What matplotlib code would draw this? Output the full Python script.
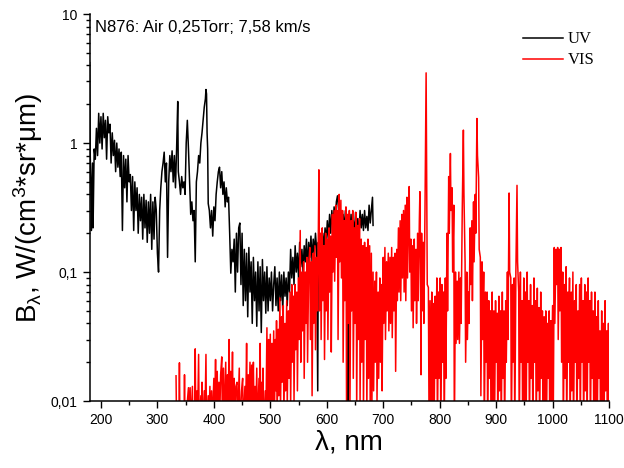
import matplotlib
matplotlib.use("Agg")
import matplotlib.pyplot as plt
from matplotlib.ticker import MultipleLocator, LogLocator, FuncFormatter, NullFormatter

plt.rcParams['font.family'] = ['Liberation Sans', 'DejaVu Sans']
plt.rcParams['mathtext.fontset'] = 'custom'
plt.rcParams['mathtext.rm'] = 'Liberation Sans'
plt.rcParams['mathtext.it'] = 'Liberation Sans'

# spectrum UV (black), nm / W/(cm3*sr*um)
uv_nm = [
    180, 181, 182, 183, 185, 186, 188, 190, 192, 194,
    196, 198, 200, 202, 204, 206, 208, 210, 212, 214,
    216, 218, 220, 222, 224, 226, 228, 230, 232, 234,
    236, 238, 240, 242, 244, 246, 248, 250, 252, 254,
    256, 258, 260, 262, 264, 266, 268, 270, 272, 274,
    276, 278, 280, 282, 284, 286, 288, 290, 292, 294,
    296, 298, 300, 302, 304, 306, 308, 310, 312, 314,
    316, 318, 320, 322, 324, 326, 328, 330, 332, 334,
    336, 337, 339, 341, 343, 345, 347, 349, 351, 353,
    355, 357, 359, 361, 363, 365, 367, 369, 371, 373,
    375, 377, 379, 381, 383, 385, 386, 387, 388, 389,
    390, 392, 394, 396, 398, 400, 402, 404, 406, 408,
    410, 412, 414, 416, 418, 420, 422, 424, 426, 428,
    430, 432, 434, 436, 438, 440, 442, 444, 446, 448,
    450, 452, 454, 456, 458, 460, 462, 464, 466, 468,
    470, 472, 474, 476, 478, 480, 482, 484, 486, 488,
    490, 492, 494, 496, 498, 500, 502, 504, 506, 508,
    510, 512, 514, 516, 518, 520, 522, 524, 526, 528,
    530, 532, 534, 536, 538, 540, 542, 544, 546, 548,
    550, 552, 554, 556, 558, 560, 562, 564, 566, 568,
    570, 572, 574, 576, 578, 580, 582, 584, 585, 587,
    589, 591, 593, 595, 597, 599, 601, 603, 605, 607,
    609, 611, 613, 615, 617, 619, 621, 623, 625, 627,
    629, 631, 633, 635, 637, 638, 639, 641, 643, 645,
    647, 649, 651, 653, 655, 657, 659, 661, 663, 665,
    667, 669, 671, 673, 675, 677, 679, 681, 682,
]
uv_val = [
    4.2, 0.8, 0.5, 0.21, 0.7, 0.22, 0.9, 0.75, 1.3, 0.8,
    1.7, 1.0, 1.6, 0.9, 1.7, 1.1, 1.5, 0.75, 1.6, 1.2,
    1.4, 0.7, 1.2, 0.8, 1.05, 0.6, 1.0, 0.65, 0.9, 0.55,
    0.85, 0.21, 0.8, 0.45, 0.75, 0.35, 0.8, 0.5, 0.57, 0.3,
    0.55, 0.21, 0.5, 0.3, 0.45, 0.2, 0.4, 0.25, 0.38, 0.18,
    0.4, 0.22, 0.36, 0.17, 0.35, 0.2, 0.4, 0.15, 0.35, 0.18,
    0.38, 0.3, 0.14, 0.1, 0.3, 0.45, 0.6, 0.7, 0.85, 0.5,
    0.7, 0.13, 0.5, 0.8, 0.6, 0.87, 0.5, 0.8, 0.45, 0.9,
    2.1, 0.6, 0.5, 0.4, 0.55, 0.45, 0.5, 0.4, 1.0, 1.5,
    0.9, 0.5, 0.28, 0.35, 0.25, 0.3, 0.12, 0.5, 0.6, 0.8,
    0.7, 1.0, 1.2, 1.5, 1.9, 2.2, 2.6, 2.4, 1.2, 0.9,
    0.34, 0.3, 0.22, 0.3, 0.19, 0.32, 0.25, 0.4, 0.5, 0.6,
    0.65, 0.45, 0.6, 0.4, 0.5, 0.32, 0.45, 0.35, 0.38, 0.2,
    0.098, 0.15, 0.12, 0.18, 0.07, 0.2, 0.1, 0.22, 0.24, 0.08,
    0.2, 0.055, 0.15, 0.06, 0.14, 0.045, 0.155, 0.07, 0.12, 0.04,
    0.13, 0.06, 0.1, 0.038, 0.12, 0.05, 0.11, 0.034, 0.125, 0.06,
    0.1, 0.048, 0.11, 0.05, 0.09, 0.06, 0.1, 0.05, 0.08, 0.11,
    0.055, 0.09, 0.05, 0.1, 0.06, 0.095, 0.05, 0.1, 0.065, 0.09,
    0.055, 0.1, 0.07, 0.15, 0.09, 0.13, 0.08, 0.16, 0.1, 0.14,
    0.09, 0.17, 0.11, 0.15, 0.1, 0.16, 0.12, 0.18, 0.1, 0.17,
    0.13, 0.19, 0.12, 0.18, 0.14, 0.2, 0.15, 0.012, 0.17, 0.13,
    0.19, 0.14, 0.2, 0.15, 0.22, 0.17, 0.25, 0.18, 0.28, 0.2,
    0.3, 0.22, 0.32, 0.24, 0.35, 0.39, 0.3, 0.22, 0.3, 0.2,
    0.28, 0.21, 0.3, 0.22, 0.27, 0.009, 0.25, 0.2, 0.28, 0.19,
    0.25, 0.2, 0.29, 0.21, 0.26, 0.19, 0.3, 0.22, 0.28, 0.21,
    0.3, 0.22, 0.27, 0.21, 0.33, 0.24, 0.3, 0.38, 0.23,
]

# spectrum VIS (red)
vis_nm = [
    333, 334, 338, 339, 340, 347, 348, 349, 355, 356,
    358, 359, 362, 363, 366, 367, 368, 370, 371, 373,
    374, 377, 378, 379, 380, 383, 384, 386, 387, 390,
    391, 393, 394, 396, 397, 400, 401, 403, 404, 406,
    407, 409, 410, 412, 414, 415, 417, 418, 421, 422,
    424, 425, 427, 428, 430, 431, 433, 434, 436, 437,
    439, 441, 442, 445, 446, 449, 451, 452, 455, 456,
    458, 459, 461, 462, 464, 465, 467, 468, 470, 471,
    473, 474, 476, 477, 480, 481, 482, 483, 485, 486,
    487, 488, 491, 492, 494, 495, 497, 498, 500, 501,
    503, 504, 506, 507, 509, 510, 511, 512, 514, 515,
    517, 518, 520, 521, 523, 524, 526, 527, 529, 530,
    532, 533, 535, 536, 538, 539, 541, 542, 544, 545,
    547, 548, 550, 551, 553, 554, 556, 557, 559, 560,
    562, 563, 565, 566, 568, 570, 571, 573, 574, 576,
    577, 579, 580, 582, 583, 585, 586, 587, 589, 590,
    592, 593, 595, 596, 598, 599, 601, 602, 604, 605,
    607, 608, 610, 611, 613, 614, 616, 617, 619, 620,
    622, 623, 625, 626, 628, 629, 631, 632, 634, 635,
    637, 638, 640, 641, 643, 644, 646, 647, 649, 650,
    652, 653, 655, 656, 658, 659, 661, 662, 664, 665,
    667, 668, 670, 671, 673, 674, 676, 677, 679, 680,
    682, 683, 685, 686, 688, 689, 691, 692, 694, 695,
    697, 698, 700, 701, 703, 704, 706, 707, 709, 710,
    712, 713, 715, 716, 718, 719, 721, 722, 724, 725,
    727, 728, 730, 731, 733, 734, 736, 737, 739, 740,
    742, 743, 745, 746, 747, 749, 750, 752, 753, 755,
    756, 758, 759, 761, 762, 764, 765, 766, 767, 768,
    769, 771, 772, 774, 776, 777, 778, 780, 781, 783,
    784, 786, 787, 789, 790, 792, 793, 795, 796, 798,
    799, 801, 802, 804, 805, 807, 808, 810, 811, 813,
    814, 816, 817, 819, 820, 822, 823, 825, 826, 828,
    829, 831, 832, 834, 835, 837, 838, 840, 842, 843,
    845, 846, 848, 849, 851, 852, 854, 855, 857, 858,
    860, 861, 863, 864, 866, 867, 869, 870, 872, 873,
    875, 876, 878, 879, 881, 882, 884, 885, 887, 888,
    890, 891, 893, 894, 896, 897, 899, 900, 902, 903,
    905, 906, 908, 909, 911, 912, 914, 915, 917, 918,
    920, 921, 923, 924, 926, 927, 929, 930, 932, 933,
    935, 937, 938, 940, 941, 943, 944, 946, 947, 949,
    950, 952, 953, 955, 956, 958, 959, 961, 962, 964,
    965, 967, 968, 970, 971, 973, 974, 976, 977, 979,
    980, 982, 983, 985, 986, 988, 989, 991, 992, 994,
    995, 997, 998, 1000, 1001, 1003, 1004, 1006, 1007, 1009,
    1010, 1012, 1013, 1015, 1016, 1018, 1019, 1021, 1022, 1024,
    1025, 1027, 1028, 1030, 1031, 1033, 1034, 1036, 1037, 1039,
    1040, 1042, 1043, 1045, 1046, 1048, 1049, 1051, 1052, 1054,
    1055, 1057, 1058, 1060, 1061, 1063, 1064, 1066, 1067, 1069,
    1070, 1072, 1073, 1075, 1076, 1078, 1079, 1081, 1082, 1084,
    1085, 1087, 1088, 1090, 1091, 1093, 1094, 1096, 1097, 1099,
    1100,
]
vis_val = [
    0.0157, 0.006, 0.006, 0.0198, 0.006, 0.006, 0.016, 0.006, 0.0127, 0.006,
    0.0127, 0.006, 0.013, 0.006, 0.006, 0.0254, 0.006, 0.012, 0.006, 0.023,
    0.006, 0.011, 0.006, 0.014, 0.006, 0.012, 0.006, 0.023, 0.006, 0.011,
    0.006, 0.013, 0.006, 0.012, 0.006, 0.015, 0.006, 0.021, 0.008, 0.017,
    0.006, 0.014, 0.006, 0.016, 0.022, 0.007, 0.018, 0.006, 0.02, 0.007,
    0.016, 0.006, 0.03, 0.009, 0.017, 0.006, 0.024, 0.008, 0.015, 0.006,
    0.013, 0.014, 0.006, 0.018, 0.006, 0.012, 0.015, 0.006, 0.013, 0.006,
    0.028, 0.008, 0.016, 0.006, 0.02, 0.007, 0.019, 0.006, 0.02, 0.008,
    0.013, 0.006, 0.018, 0.006, 0.015, 0.006, 0.028, 0.007, 0.014, 0.006,
    0.018, 0.006, 0.012, 0.006, 0.037, 0.006, 0.03, 0.008, 0.033, 0.006,
    0.028, 0.01, 0.035, 0.006, 0.03, 0.012, 0.042, 0.007, 0.036, 0.011,
    0.063, 0.008, 0.045, 0.014, 0.055, 0.007, 0.04, 0.012, 0.06, 0.009,
    0.05, 0.015, 0.07, 0.009, 0.08, 0.02, 0.065, 0.01, 0.08, 0.025,
    0.07, 0.012, 0.09, 0.03, 0.21, 0.02, 0.1, 0.035, 0.12, 0.015,
    0.1, 0.04, 0.13, 0.02, 0.11, 0.155, 0.03, 0.12, 0.011, 0.14,
    0.04, 0.16, 0.025, 0.13, 0.05, 0.18, 0.62, 0.05, 0.2, 0.03,
    0.22, 0.06, 0.16, 0.021, 0.2, 0.05, 0.18, 0.03, 0.22, 0.07,
    0.19, 0.024, 0.28, 0.1, 0.3, 0.085, 0.33, 0.13, 0.3, 0.03,
    0.4, 0.12, 0.36, 0.09, 0.3, 0.02, 0.25, 0.06, 0.32, 0.01,
    0.28, 0.04, 0.3, 0.008, 0.25, 0.05, 0.3, 0.015, 0.22, 0.04,
    0.29, 0.008, 0.23, 0.03, 0.26, 0.01, 0.18, 0.02, 0.16, 0.008,
    0.17, 0.03, 0.155, 0.008, 0.18, 0.015, 0.16, 0.008, 0.14, 0.01,
    0.1, 0.012, 0.085, 0.02, 0.1, 0.01, 0.07, 0.015, 0.09, 0.02,
    0.08, 0.012, 0.13, 0.04, 0.155, 0.03, 0.12, 0.05, 0.14, 0.035,
    0.13, 0.04, 0.155, 0.031, 0.13, 0.05, 0.14, 0.017, 0.15, 0.06,
    0.22, 0.07, 0.25, 0.06, 0.28, 0.09, 0.3, 0.07, 0.33, 0.06,
    0.38, 0.09, 0.3, 0.46, 0.1, 0.18, 0.05, 0.16, 0.037, 0.18,
    0.06, 0.15, 0.04, 0.2, 0.06, 0.25, 0.42, 0.1, 0.016, 0.2,
    0.05, 0.17, 0.04, 0.3, 3.5, 0.6, 0.08, 0.076, 0.01, 0.06,
    0.005, 0.07, 0.01, 0.057, 0.005, 0.065, 0.015, 0.09, 0.005, 0.07,
    0.015, 0.09, 0.005, 0.08, 0.02, 0.07, 0.005, 0.09, 0.015, 0.2,
    0.05, 0.55, 0.2, 0.83, 0.3, 0.45, 0.1, 0.33, 0.005, 0.1,
    0.028, 0.085, 0.03, 0.1, 0.028, 0.09, 0.04, 0.3, 1.26, 0.4,
    0.12, 0.02, 0.1, 0.03, 0.07, 0.04, 0.22, 0.08, 0.25, 0.06,
    0.35, 0.12, 0.4, 0.2, 1.55, 0.8, 0.54, 0.15, 0.13, 0.011,
    0.12, 0.03, 0.1, 0.005, 0.07, 0.02, 0.07, 0.005, 0.06, 0.015,
    0.05, 0.005, 0.07, 0.01, 0.05, 0.005, 0.06, 0.02, 0.048, 0.005,
    0.065, 0.012, 0.05, 0.005, 0.07, 0.015, 0.05, 0.005, 0.06, 0.02,
    0.1, 0.03, 0.41, 0.1, 0.09, 0.005, 0.08, 0.02, 0.09, 0.005,
    0.1, 0.47, 0.12, 0.07, 0.005, 0.1, 0.02, 0.06, 0.005, 0.09,
    0.01, 0.07, 0.005, 0.1, 0.02, 0.06, 0.005, 0.08, 0.015, 0.055,
    0.005, 0.09, 0.02, 0.06, 0.005, 0.075, 0.012, 0.053, 0.005, 0.07,
    0.015, 0.05, 0.005, 0.045, 0.01, 0.05, 0.005, 0.04, 0.015, 0.05,
    0.005, 0.042, 0.01, 0.055, 0.005, 0.155, 0.04, 0.15, 0.08, 0.155,
    0.03, 0.15, 0.05, 0.155, 0.02, 0.1, 0.005, 0.08, 0.015, 0.11,
    0.005, 0.07, 0.02, 0.09, 0.005, 0.07, 0.012, 0.1, 0.005, 0.06,
    0.02, 0.08, 0.005, 0.05, 0.015, 0.08, 0.005, 0.09, 0.02, 0.06,
    0.005, 0.08, 0.012, 0.07, 0.005, 0.09, 0.02, 0.06, 0.005, 0.07,
    0.015, 0.05, 0.005, 0.07, 0.01, 0.045, 0.005, 0.06, 0.015, 0.035,
    0.005, 0.05, 0.01, 0.04, 0.005, 0.06, 0.012, 0.035, 0.005, 0.04,
    0.01,
]

y_ticks = [0.01, 0.1, 1, 10]

fig = plt.figure(figsize=(6.24, 4.68), dpi=100)
ax = fig.add_axes([0.1437, 0.143, 0.8323, 0.827])

ax.plot(uv_nm, uv_val, color='black', lw=1.1, label='UV')
ax.plot(vis_nm, vis_val, color='red', lw=1.1, label='VIS')

ax.set_yscale('log')
ax.set_xlim(180, 1100)
ax.set_ylim(0.01, 10)

ax.xaxis.set_major_locator(MultipleLocator(100))
ax.xaxis.set_minor_locator(MultipleLocator(50))
ax.set_yticks(y_ticks)
ax.yaxis.set_minor_locator(LogLocator(base=10, subs=range(2, 10)))
ax.yaxis.set_minor_formatter(NullFormatter())
ax.yaxis.set_major_formatter(FuncFormatter(lambda v, p: ('%g' % v).replace('.', ',')))

ax.tick_params(which='major', direction='out', length=5, width=1, labelsize=10)
ax.tick_params(which='minor', direction='out', length=3, width=1)
for s in ['top', 'right']:
    ax.spines[s].set_visible(False)
for s in ['left', 'bottom']:
    ax.spines[s].set_linewidth(1.1)

ax.set_xlabel('λ, nm', fontsize=20, labelpad=2)
ax.set_ylabel(r'B$_\lambda$, W/(cm$^3$*sr*μm)', fontsize=20, labelpad=4)

ax.text(0.011, 0.985, 'N876: Air 0,25Torr; 7,58 km/s', transform=ax.transAxes,
        ha='left', va='top', fontsize=12)

leg = ax.legend(loc='upper left', bbox_to_anchor=(0.834, 0.955), frameon=False,
                borderpad=0, borderaxespad=0, handlelength=2.4, handletextpad=0.3,
                labelspacing=0.3, prop={'family': 'Liberation Serif', 'size': 12})

fig.savefig('out.png', dpi=100)
